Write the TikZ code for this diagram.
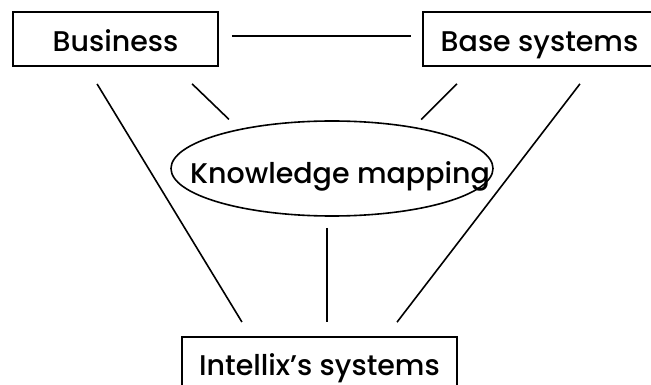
\documentclass[tikz,border=0pt]{standalone}
\usepackage{fontspec}
\setmainfont{Poppins}[BoldFont={Poppins Medium}]
\usetikzlibrary{shapes.geometric}

\tikzset{
	txt/.style={font=\fontsize{28.5}{30}\selectfont\bfseries, text height=26pt, text depth=0pt},
	box/.style={draw, line width=1.8pt, rectangle, inner sep=0pt, txt},
	oval/.style={draw, line width=1.6pt, ellipse, inner sep=0pt},
	link/.style={line width=1.6pt}
}

\begin{document}
\begin{tikzpicture}[x=1pt, y=-1pt]
		%%%%% START %%%%%
		
		\clip (0, 0) rectangle (651, 385);
		\useasboundingbox (0, 0) rectangle (651, 385);
		
		\node[box, minimum width=205, minimum height=54] (biz) at (115.5, 39) {Business};
		\node[box, minimum width=233, minimum height=54] (base) at (539.5, 39) {Base systems};
		\node[oval, minimum width=322, minimum height=95,
			label={[txt, xshift=8pt, yshift=-2pt]center:Knowledge mapping}] (km) at (332, 168.5) {};
		\node[box, minimum width=275, minimum height=50] (intx) at (319.5, 362) {Intellix's systems};
		
		\draw[link, shorten <=13, shorten >=11] ([yshift=3pt]biz.east) -- ([yshift=3pt]base.west);
		
		\draw[link, shorten <=20, shorten >=16.5] ([xshift=-28.8pt]biz.south) -- ([xshift=-69pt]intx.north);
		\draw[link, shorten <=24.4, shorten >=13.9] ([xshift=59pt]biz.south) -- (km.157);
		
		\draw[link, shorten <=24, shorten >=10.3] ([xshift=-65.5pt]base.south) -- (km.27);
		\draw[link, shorten <=21.4, shorten >=17.6] ([xshift=53.5pt]base.south) -- ([xshift=66.8pt]intx.north);
		
		\draw[link, shorten <=11, shorten >=14] ([xshift=-5pt]km.south) -- ([xshift=7.5pt]intx.north);
		
		%%%%% END %%%%%
	\end{tikzpicture}
\end{document}
